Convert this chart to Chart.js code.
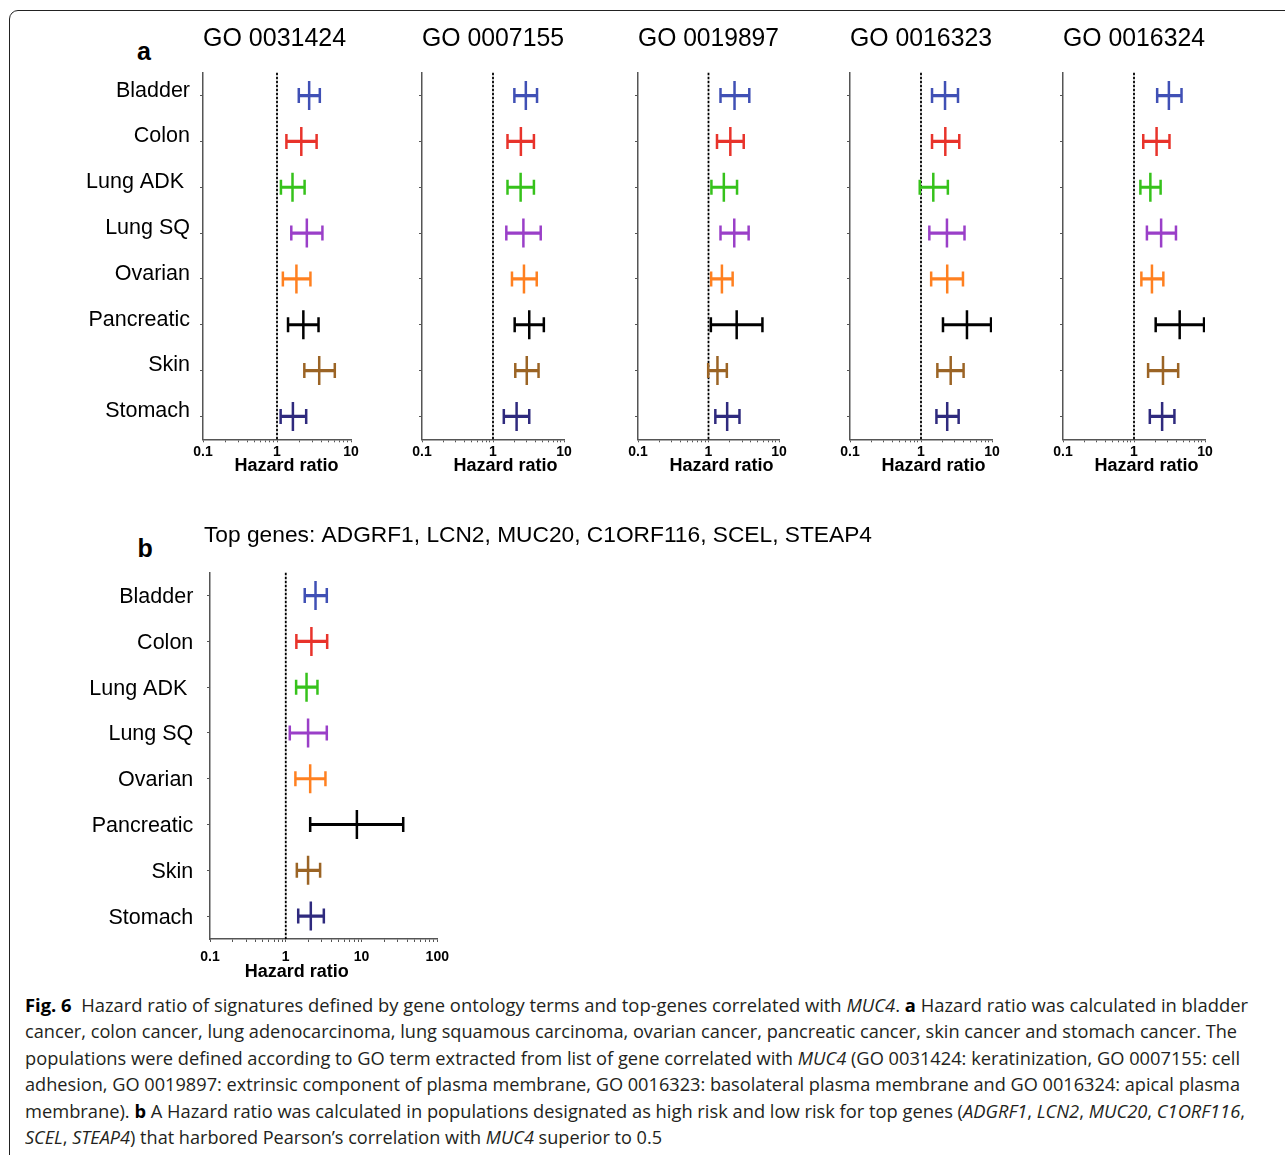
<!DOCTYPE html>
<html>
<head>
<meta charset="utf-8">
<title>Hazard ratio of MUC4-correlated signatures</title>
<script src="https://cdn.jsdelivr.net/npm/chart.js@4.4.1/dist/chart.umd.min.js"></script>
<style>
  html, body { margin: 0; padding: 0; background: #fff; width: 1285px; height: 1155px; overflow: hidden; }
  #frame { position: absolute; left: 8.5px; top: 9.5px; width: 1300px; height: 1200px;
           border: 1.2px solid #222; border-top-left-radius: 9px; box-sizing: border-box; }
  canvas { position: absolute; }
  .panel-tag { position: absolute; font: bold 25px "Liberation Sans", Arial, sans-serif; line-height: 25px; color: #000; }
  #caption { position: absolute; left: 25px; top: 992px; font-family: "Open Sans", "Noto Sans", sans-serif;
             font-size: 17.5px; color: #231f20; }
  #caption .ln { height: 26.4px; line-height: 26.4px; white-space: nowrap; }
  #caption .ln > span { display: inline-block; transform-origin: 0 50%; }
  #caption b { color: #000; }
</style>
</head>
<body>
<div id="frame"></div>
<div class="panel-tag" style="left:137px;top:39px">a</div>
<div class="panel-tag" style="left:137.5px;top:535.5px">b</div>

<div id="caption">
  <div class="ln" data-w="1223"><span><b>Fig. 6</b>&nbsp; Hazard ratio of signatures defined by gene ontology terms and top-genes correlated with <i>MUC4</i>. <b>a</b> Hazard ratio was calculated in bladder</span></div>
  <div class="ln" data-w="1212"><span>cancer, colon cancer, lung adenocarcinoma, lung squamous carcinoma, ovarian cancer, pancreatic cancer, skin cancer and stomach cancer. The</span></div>
  <div class="ln" data-w="1215"><span>populations were defined according to GO term extracted from list of gene correlated with <i>MUC4</i> (GO 0031424: keratinization, GO 0007155: cell</span></div>
  <div class="ln" data-w="1215"><span>adhesion, GO 0019897: extrinsic component of plasma membrane, GO 0016323: basolateral plasma membrane and GO 0016324: apical plasma</span></div>
  <div class="ln" data-w="1220"><span>membrane). <b>b</b> A Hazard ratio was calculated in populations designated as high risk and low risk for top genes (<i>ADGRF1</i>, <i>LCN2</i>, <i>MUC20</i>, <i>C1ORF116</i>,</span></div>
  <div class="ln" data-w="637"><span><i>SCEL</i>, <i>STEAP4</i>) that harbored Pearson’s correlation with <i>MUC4</i> superior to 0.5</span></div>
</div>

<script>
// ---- data -------------------------------------------------------------
const cancerTypes  = ['Bladder', 'Colon', 'Lung ADK ', 'Lung SQ', 'Ovarian', 'Pancreatic', 'Skin', 'Stomach'];
const cancerColors = ['#4050b5', '#e8332b', '#36c21b', '#9a3fc8', '#ff8020', '#000000', '#9b6425', '#2f2a7e'];

// hazard ratio, lower and upper confidence bound per cancer type
const hrGO0031424 = [2.72, 2.13, 1.62, 2.53, 1.83, 2.27, 3.72, 1.64];
const loGO0031424 = [1.97, 1.34, 1.13, 1.56, 1.20, 1.41, 2.34, 1.12];
const hiGO0031424 = [3.79, 3.43, 2.36, 4.11, 2.83, 3.64, 6.04, 2.48];

const hrGO0007155 = [2.90, 2.47, 2.45, 2.68, 2.73, 3.24, 2.99, 2.15];
const loGO0007155 = [2.00, 1.60, 1.60, 1.54, 1.85, 2.02, 2.06, 1.42];
const hiGO0007155 = [4.17, 3.77, 3.77, 4.70, 4.13, 5.20, 4.38, 3.24];

const hrGO0019897 = [2.34, 2.04, 1.65, 2.32, 1.55, 2.51, 1.34, 1.84];
const loGO0019897 = [1.48, 1.32, 1.10, 1.48, 1.09, 1.08, 0.99, 1.25];
const hiGO0019897 = [3.79, 3.16, 2.54, 3.71, 2.20, 5.82, 1.82, 2.75];

const hrGO0016323 = [2.18, 2.20, 1.49, 2.32, 2.34, 4.44, 2.62, 2.34];
const loGO0016323 = [1.43, 1.43, 0.96, 1.31, 1.39, 2.04, 1.70, 1.65];
const hiGO0016323 = [3.32, 3.46, 2.39, 4.10, 3.90, 9.70, 3.98, 3.39];

const hrGO0016324 = [3.10, 2.08, 1.70, 2.41, 1.79, 4.40, 2.56, 2.49];
const loGO0016324 = [2.12, 1.35, 1.23, 1.52, 1.27, 2.02, 1.58, 1.67];
const hiGO0016324 = [4.67, 3.16, 2.37, 3.90, 2.59, 9.70, 4.19, 3.71];

const hrTopGenes = [2.47, 2.18, 1.88, 1.97, 2.10, 8.68, 1.97, 2.14];
const loTopGenes = [1.78, 1.38, 1.37, 1.13, 1.34, 2.10, 1.40, 1.46];
const hiTopGenes = [3.48, 3.52, 2.62, 3.48, 3.34, 35.5, 2.84, 3.18];

// log axis ticks and the labelled decades
const logTicksTo10  = [0.1, 0.2, 0.3, 0.4, 0.5, 0.6, 0.7, 0.8, 0.9, 1, 2, 3, 4, 5, 6, 7, 8, 9, 10];
const logTicksTo100 = [0.1, 0.2, 0.3, 0.4, 0.5, 0.6, 0.7, 0.8, 0.9, 1, 2, 3, 4, 5, 6, 7, 8, 9,
                       10, 20, 30, 40, 50, 60, 70, 80, 90, 100];
const decadeLabels  = ['0.1', '1', '10', '100'];
const nullHazard = 1;
const axisTitle = 'Hazard ratio';
const topGenesTitle = 'Top genes: ADGRF1, LCN2, MUC20, C1ORF116, SCEL, STEAP4';

// ---- drawing ----------------------------------------------------------
Chart.defaults.font.family = '"Liberation Sans", Arial, Helvetica, sans-serif';
Chart.defaults.color = '#000';

// dashed vertical line at HR = 1
const unityLine = {
  id: 'unityLine',
  beforeDatasetsDraw(chart, args, opts) {
    const { ctx, chartArea: { top, bottom }, scales: { x } } = chart;
    const px = x.getPixelForValue(opts.value);
    ctx.save();
    ctx.strokeStyle = '#000';
    ctx.lineWidth = 1.8;
    ctx.setLineDash([2.5, 1.5]);
    ctx.beginPath();
    ctx.moveTo(px, top);
    ctx.lineTo(px, bottom);
    ctx.stroke();
    ctx.restore();
  }
};

// headings placed relative to the plot area (axis caption, long panel heading)
const headings = {
  id: 'headings',
  afterDraw(chart, args, opts) {
    const { ctx, chartArea } = chart;
    (opts.items || []).forEach(it => {
      ctx.save();
      let font = Chart.helpers.toFont(it.font);
      if (it.width) {
        ctx.font = font.string;
        const natural = ctx.measureText(it.text).width;
        font = Chart.helpers.toFont(Object.assign({}, it.font, { size: it.font.size * it.width / natural }));
      }
      ctx.font = font.string;
      ctx.fillStyle = '#000';
      ctx.textAlign = it.align;
      ctx.textBaseline = 'middle';
      ctx.fillText(it.text, chartArea.left + it.dx, it.y);
      ctx.restore();
    });
  }
};

function decadeLabel(v) {
  const hit = decadeLabels.find(l => Math.abs(parseFloat(l) - v) < 1e-9);
  return hit === undefined ? '' : hit;
}

function forestPlot(p) {
  const cv = document.createElement('canvas');
  const w = Math.ceil(p.area.right - p.canvasX + p.rightGap);
  const h = p.canvasH;
  cv.width = w; cv.height = h;
  cv.style.left = p.canvasX + 'px';
  cv.style.top = p.canvasY + 'px';
  cv.style.width = w + 'px';
  cv.style.height = h + 'px';
  document.body.appendChild(cv);

  const yAxisW = p.area.left - p.canvasX;
  const rightPad = w - (p.area.right - p.canvasX);
  const chartTop = p.area.top - p.canvasY;
  const chartBottom = p.area.bottom - p.canvasY;
  const xAxisH = h - chartBottom;
  const tickPad = (p.tickY - p.canvasY) - chartBottom - 3 - 14 * 1.2 / 2;

  let titleOpts = { display: false };
  let topPad = chartTop;
  if (p.title) {
    const titleLH = p.titleSize * 1.2;
    const titleCenter = p.titleY - p.canvasY;
    topPad = 0;
    titleOpts = {
      display: true,
      text: p.title,
      fullSize: false,
      align: 'start',
      color: '#000',
      font: { size: p.titleSize, weight: 'normal', lineHeight: 1.2 },
      padding: { top: titleCenter - titleLH / 2, bottom: chartTop - titleCenter - titleLH / 2 }
    };
  }

  const headingItems = [
    { text: axisTitle, dx: p.xTitleDx, y: p.xTitleY - p.canvasY, align: 'center',
      font: { size: 18, weight: 'bold', family: Chart.defaults.font.family } }
  ];
  if (p.heading) {
    headingItems.push({ text: p.heading, dx: p.headingDx, y: p.headingY - p.canvasY, align: 'left',
      width: p.headingWidth,
      font: { size: p.headingSize, weight: 'normal', family: Chart.defaults.font.family } });
  }

  const capPoints = [];
  const capColors = [];
  cancerTypes.forEach((c, i) => {
    capPoints.push({ x: p.lo[i], y: c }, { x: p.hi[i], y: c });
    capColors.push(cancerColors[i], cancerColors[i]);
  });

  return new Chart(cv, {
    type: 'bar',
    data: {
      labels: cancerTypes,
      datasets: [
        { // confidence interval line
          type: 'bar',
          data: p.lo.map((v, i) => [v, p.hi[i]]),
          backgroundColor: cancerColors,
          borderWidth: 0,
          barThickness: 2.5
        },
        { // interval end caps
          type: 'scatter',
          data: capPoints,
          showLine: false,
          pointStyle: 'line',
          pointRotation: 90,
          pointRadius: 7.5,
          pointBorderWidth: 2.5,
          pointBorderColor: capColors
        },
        { // hazard ratio estimate
          type: 'scatter',
          data: cancerTypes.map((c, i) => ({ x: p.hr[i], y: c })),
          showLine: false,
          pointStyle: 'line',
          pointRotation: 90,
          pointRadius: 14.5,
          pointBorderWidth: 2.5,
          pointBorderColor: cancerColors
        }
      ]
    },
    options: {
      indexAxis: 'y',
      responsive: false,
      animation: false,
      events: [],
      layout: { padding: { left: 0, top: topPad, right: rightPad, bottom: 0 } },
      plugins: {
        legend: { display: false },
        tooltip: { enabled: false },
        title: titleOpts,
        unityLine: { value: nullHazard },
        headings: { items: headingItems }
      },
      scales: {
        x: {
          type: 'logarithmic',
          position: 'bottom',
          min: 0.1,
          max: p.max,
          afterBuildTicks: s => { s.ticks = p.ticks.map(v => ({ value: v, major: decadeLabel(v) !== '' })); },
          afterFit: s => { s.height = xAxisH; },
          ticks: {
            autoSkip: false, maxRotation: 0, minRotation: 0,
            padding: tickPad,
            color: '#000',
            font: { size: 14, weight: 'bold', lineHeight: 1.2 },
            callback: v => decadeLabel(v)
          },
          grid: { drawOnChartArea: false, drawTicks: true, tickLength: 3, color: '#555', lineWidth: 1 },
          border: { display: true, color: '#555', width: 1.5 },
          title: { display: false }
        },
        y: {
          type: 'category',
          position: 'left',
          offset: true,
          afterFit: s => { s.width = yAxisW; },
          ticks: {
            display: p.showLabels,
            autoSkip: false,
            padding: p.labelPad,
            labelOffset: p.labelOffset,
            color: '#000',
            font: { size: 21.5, lineHeight: 1.2 }
          },
          grid: { offset: false, drawOnChartArea: false, drawTicks: true, tickLength: 3, color: '#555', lineWidth: 1 },
          border: { display: true, color: '#555', width: 1.5 }
        }
      }
    },
    plugins: [unityLine, headings]
  });
}

// panel a: one plot per GO term
const panelA = [
  { title: 'GO 0031424', hr: hrGO0031424, lo: loGO0031424, hi: hiGO0031424, canvasX: 60,   left: 203,   right: 355.3, labels: true },
  { title: 'GO 0007155', hr: hrGO0007155, lo: loGO0007155, hi: hiGO0007155, canvasX: 405,  left: 415.7, right: 568.3, labels: false },
  { title: 'GO 0019897', hr: hrGO0019897, lo: loGO0019897, hi: hiGO0019897, canvasX: 621,  left: 631,   right: 783.6, labels: false },
  { title: 'GO 0016323', hr: hrGO0016323, lo: loGO0016323, hi: hiGO0016323, canvasX: 833,  left: 843.7, right: 996.3, labels: false },
  { title: 'GO 0016324', hr: hrGO0016324, lo: loGO0016324, hi: hiGO0016324, canvasX: 1046, left: 1056.7, right: 1209.3, labels: false }
];

panelA.forEach(g => forestPlot({
  title: g.title, titleSize: 25, titleY: 39.5,
  hr: g.hr, lo: g.lo, hi: g.hi,
  canvasX: g.canvasX, canvasY: 0, canvasH: 478, rightGap: 12,
  area: { left: g.left, right: g.right, top: 72.7, bottom: 439.3 },
  max: 10, ticks: logTicksTo10,
  tickY: 451.7, xTitleY: 466, xTitleDx: 83.5,
  showLabels: g.labels, labelPad: 10, labelOffset: -5
}));

// panel b: top correlated genes
forestPlot({
  heading: topGenesTitle, headingSize: 23.4, headingY: 536, headingDx: -6, headingWidth: 668,
  hr: hrTopGenes, lo: loTopGenes, hi: hiTopGenes,
  canvasX: 60, canvasY: 500, canvasH: 490, rightGap: 470,
  area: { left: 210, right: 437.3, top: 572.7, bottom: 939 },
  max: 100, ticks: logTicksTo100,
  tickY: 957.3, xTitleY: 972.3, xTitleDx: 86.7,
  showLabels: true, labelPad: 13.7, labelOffset: 1.5
});

// caption lines are set to their column widths
function fitCaption() {
  document.querySelectorAll('#caption .ln').forEach(ln => {
    const span = ln.firstElementChild;
    span.style.transform = 'none';
    const natural = span.getBoundingClientRect().width;
    const target = parseFloat(ln.dataset.w);
    span.style.transform = 'scaleX(' + (target / natural) + ')';
  });
}
fitCaption();
if (document.fonts && document.fonts.ready) document.fonts.ready.then(fitCaption);
</script>
</body>
</html>
